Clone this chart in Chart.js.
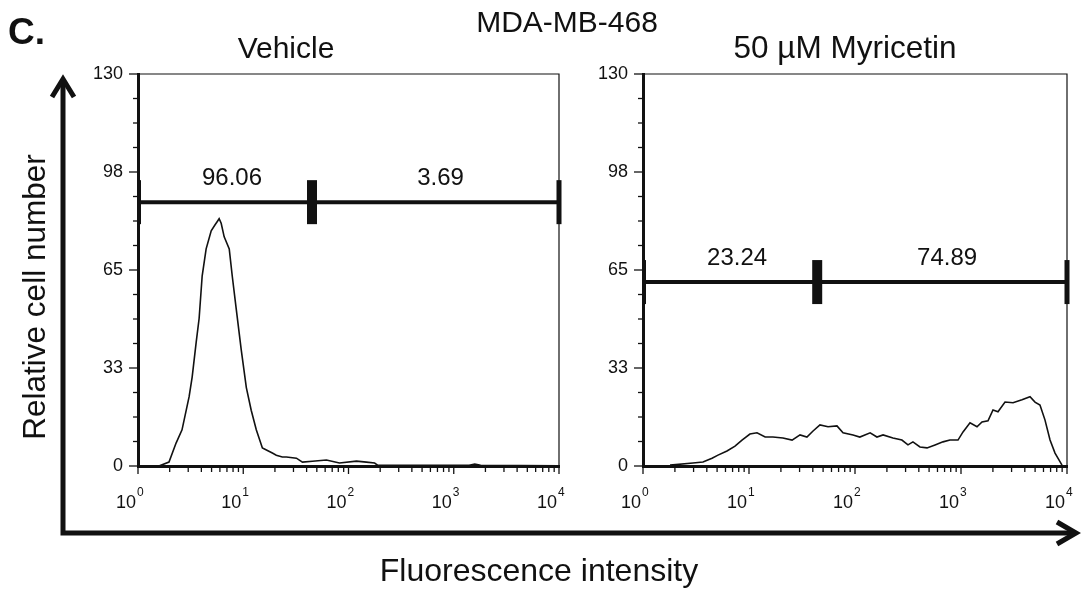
<!DOCTYPE html>
<html>
<head>
<meta charset="utf-8">
<title>MDA-MB-468</title>
<script src="https://cdn.jsdelivr.net/npm/chart.js@4.4.1/dist/chart.umd.min.js"></script>
<style>
  html, body { margin: 0; padding: 0; background: #fff; }
  body { width: 1081px; height: 594px; position: relative; overflow: hidden;
         font-family: "Liberation Sans", Arial, sans-serif; color: #111; }
  canvas { position: absolute; }
  .txt { position: absolute; line-height: 1; white-space: nowrap; z-index: 2; }
</style>
</head>
<body>
<canvas id="arrows" width="1081" height="594" style="left:0;top:0;z-index:0"></canvas>
<canvas id="vehicleChart" width="510" height="460" style="left:80px;top:60px;z-index:1"></canvas>
<canvas id="myricetinChart" width="496" height="460" style="left:585px;top:60px;z-index:1"></canvas>

<div class="txt" style="left:8px;top:13px;font-size:37px;font-weight:bold">C.</div>
<div class="txt" style="left:567px;top:7px;font-size:30px;transform:translateX(-50%)">MDA-MB-468</div>
<div class="txt" style="left:286px;top:33px;font-size:30px;transform:translateX(-50%)">Vehicle</div>
<div class="txt" style="left:845px;top:32px;font-size:31.5px;transform:translateX(-50%)">50 µM Myricetin</div>
<div class="txt" style="left:35px;top:297px;font-size:31.5px;transform:translate(-50%,-50%) rotate(-90deg)">Relative cell number</div>
<div class="txt" style="left:539px;top:554px;font-size:32px;transform:translateX(-50%)">Fluorescence intensity</div>

<script>
// Valeurs (intensité, nombre relatif de cellules)
const vehicleX = [1.58, 1.97, 2.30, 2.62, 3.06, 3.27, 3.57, 3.81, 4.07, 4.44, 4.96, 5.40, 5.65, 5.90, 6.17, 6.59,
                  7.36, 7.86, 8.58, 9.57, 10.7, 11.9, 13.3, 15.2, 16.6, 18.9, 20.6, 23.5, 25.7, 32.0, 36.5,
                  45.4, 61.7, 82.0, 119, 148, 177, 189, 631, 1400, 1585, 1800, 10000];
const vehicleY = [0, 1.3, 7.6, 12, 23, 29.5, 41, 49, 63, 72, 78, 80, 81, 82, 80.5, 76,
                  72, 63, 52, 38.5, 26, 18.5, 12, 6, 5.3, 4.3, 3.6, 3, 3, 2.6, 1.3,
                  1.6, 2, 1, 1.6, 1.3, 1, 0.3, 0.2, 0.2, 0.6, 0.2, 0.1];

const myricetinX = [1.80, 2.96, 3.68, 4.48, 5.10, 6.20, 7.38, 8.59, 10.2, 11.9, 14.2, 16.8, 20.9, 25.5, 30.3,
                    35.2, 40.2, 46.7, 55.6, 67.6, 77.1, 95.8, 111, 139, 161, 184, 228, 277, 316, 352, 410,
                    478, 569, 676, 787, 937, 1045, 1216, 1416, 1578, 1798, 2004, 2234, 2602, 3097, 3760,
                    4477, 4989, 5559, 6194, 6918, 7709, 8974];
const myricetinY = [0.3, 1, 1.3, 2.6, 3.6, 5, 6.6, 8.6, 10.6, 11, 9.6, 9.6, 9.3, 8.6, 10.3,
                    9.6, 11.6, 13.6, 13, 13.3, 11, 10.3, 9.6, 11, 9.6, 10.3, 9.3, 8.6, 7, 8, 6.3,
                    6, 7, 8, 8.6, 8.6, 11.3, 14.3, 13, 14.6, 15, 18.6, 18, 21.2, 21, 22,
                    23, 21.2, 20.2, 15.3, 8.6, 4.3, 0.3];

// Marqueurs (gates) : hauteur, séparation, pourcentages
const gateY = [87.5, 61];
const gateSplit = [45, 44];
const gateLeftPct = ['96.06', '23.24'];
const gateRightPct = ['3.69', '74.89'];

// Graduations
const yMajorTicks = [0, 32.5, 65, 97.5, 130];
const xDecades = [1, 10, 100, 1000, 10000];
const xDecadeExp = ['0', '1', '2', '3', '4'];

const FONT = '"Liberation Sans", Arial, sans-serif';
Chart.defaults.font.family = FONT;
Chart.defaults.color = '#111';

function seg(ctx, x1, y1, x2, y2) {
    ctx.beginPath();
    ctx.moveTo(x1, y1);
    ctx.lineTo(x2, y2);
    ctx.stroke();
}

// Cadre, graduations, étiquettes 10^n et gates
const flowDecor = {
    id: 'flowDecor',
    afterDraw(chart, args, opts) {
        const { ctx, chartArea: a } = chart;
        const x = chart.scales.x, y = chart.scales.y;
        const g = opts.gate;
        ctx.save();
        ctx.strokeStyle = '#111';
        ctx.fillStyle = '#111';

        // cadre fin en haut et à droite
        ctx.lineWidth = 1.2;
        ctx.beginPath();
        ctx.moveTo(a.left, a.top);
        ctx.lineTo(a.right, a.top);
        ctx.lineTo(a.right, a.bottom);
        ctx.stroke();

        // graduations y (4 intervalles mineurs par intervalle majeur)
        ctx.lineWidth = 1.3;
        for (let i = 0; i <= 16; i++) {
            const py = y.getPixelForValue(i * 130 / 16);
            const len = i % 4 === 0 ? 9 : 5;
            seg(ctx, a.left - len, py, a.left, py);
        }

        // graduations x logarithmiques + étiquettes
        xDecades.forEach((d, k) => {
            const last = k === xDecades.length - 1;
            for (let m = 1; m <= (last ? 1 : 9); m++) {
                const px = x.getPixelForValue(d * m);
                seg(ctx, px, a.bottom, px, a.bottom + (m === 1 ? 8 : 6));
            }
            const px = x.getPixelForValue(d);
            ctx.textBaseline = 'alphabetic';
            ctx.font = '18px ' + FONT;
            ctx.textAlign = 'right';
            ctx.fillText('10', px - 2, a.bottom + 42);
            ctx.font = '12px ' + FONT;
            ctx.textAlign = 'left';
            ctx.fillText(xDecadeExp[k], px - 1, a.bottom + 30);
        });

        // gate
        const gy = y.getPixelForValue(gateY[g]);
        const gx0 = x.getPixelForValue(xDecades[0]);
        const gx1 = x.getPixelForValue(xDecades[xDecades.length - 1]);
        const gxm = x.getPixelForValue(gateSplit[g]);
        ctx.lineWidth = 4;
        seg(ctx, gx0, gy, gx1, gy);
        ctx.fillRect(gx0 - 1, gy - 22, 4, 44);
        ctx.fillRect(gx1 - 2.5, gy - 22, 5, 44);
        ctx.fillRect(gxm - 5, gy - 22, 10, 44);

        ctx.font = '24px ' + FONT;
        ctx.textAlign = 'center';
        ctx.fillText(gateLeftPct[g], (gx0 + gxm) / 2 + 7, gy - 17);
        ctx.fillText(gateRightPct[g], (gxm + gx1) / 2 + 5, gy - 17);
        ctx.restore();
    }
};

function makePanel(canvasId, xs, ys, gate, padRight) {
    const canvas = document.getElementById(canvasId);
    if (!canvas) return;
    new Chart(canvas, {
        type: 'line',
        data: {
            datasets: [{
                data: xs.map((v, i) => ({ x: v, y: ys[i] })),
                borderColor: '#111',
                borderWidth: 1.6,
                pointRadius: 0,
                fill: false,
                tension: 0
            }]
        },
        options: {
            responsive: false,
            animation: false,
            events: [],
            layout: { padding: { left: 0, top: 14, right: padRight, bottom: 4 } },
            plugins: {
                legend: { display: false },
                tooltip: { enabled: false },
                flowDecor: { gate: gate }
            },
            scales: {
                x: {
                    type: 'logarithmic',
                    min: 1,
                    max: 10000,
                    ticks: { display: false },
                    grid: { display: false, drawTicks: false },
                    border: { display: true, width: 3, color: '#111' },
                    afterFit: s => { s.height = 50; }
                },
                y: {
                    type: 'linear',
                    min: 0,
                    max: 130,
                    afterBuildTicks: s => { s.ticks = yMajorTicks.map(v => ({ value: v })); },
                    afterFit: s => { s.width = 58; },
                    ticks: {
                        padding: 0,
                        color: '#111',
                        font: { size: 18 },
                        callback: v => String(Math.round(v))
                    },
                    // les graduations sont dessinées par le plugin ; tickLength sert juste de décalage
                    grid: { display: false, drawTicks: true, tickLength: 15 },
                    border: { display: true, width: 3, color: '#111' }
                }
            }
        },
        plugins: [flowDecor]
    });
}

document.addEventListener('DOMContentLoaded', () => {
    // grands axes fléchés
    const ac = document.getElementById('arrows').getContext('2d');
    ac.strokeStyle = '#111';
    ac.lineWidth = 5;
    ac.lineJoin = 'miter';
    ac.beginPath();
    ac.moveTo(63, 80);
    ac.lineTo(63, 533);
    ac.lineTo(1074, 533);
    ac.stroke();
    ac.beginPath();
    ac.moveTo(52, 97); ac.lineTo(63, 79); ac.lineTo(74, 97);
    ac.stroke();
    ac.beginPath();
    ac.moveTo(1057, 522); ac.lineTo(1076, 533); ac.lineTo(1057, 544);
    ac.stroke();

    makePanel('vehicleChart', vehicleX, vehicleY, 0, 31);
    makePanel('myricetinChart', myricetinX, myricetinY, 1, 14);
});
</script>
</body>
</html>
